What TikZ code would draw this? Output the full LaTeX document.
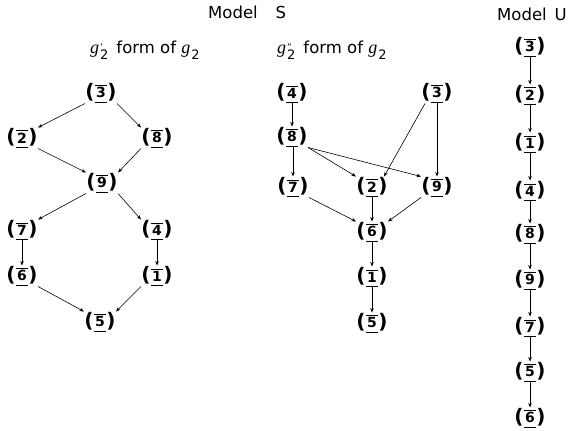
\documentclass[tikz,border=0pt]{standalone}
\usepackage{fontspec}
\setmainfont{DejaVu Sans}
\newfontfamily\gserif{Liberation Serif}
\usetikzlibrary{arrows.meta}
\newcommand{\dgbar}[1]{\setbox0\hbox{\fontsize{14}{14}\selectfont\bfseries #1}\lower4.8pt\vbox{\hrule width\dimexpr\wd0+2pt\relax height0.8pt\kern1.6pt\hbox to\dimexpr\wd0+2pt\relax{\hss\box0\hss}\kern4pt\hrule height0.8pt}}
\newcommand{\parnum}[1]{{\fontsize{20}{20}\selectfont\bfseries(}\kern0.5pt\dgbar{#1}\kern0.5pt{\fontsize{20}{20}\selectfont\bfseries)}}
\newcommand{\gsub}[1]{{\gserif\itshape\fontsize{18}{18}\selectfont g}\kern1pt\rlap{\raisebox{3pt}{\fontsize{9}{9}\selectfont #1}}\raisebox{-6pt}{\fontsize{13}{13}\selectfont 2}}
\tikzset{
  nd/.style={inner sep=0pt, outer sep=0.5pt},
  ar/.style={line width=0.6pt, -{Stealth[length=4.5pt,width=3.5pt]}},
  ttl/.style={anchor=base west, inner sep=0pt, font=\fontsize{16.5}{18}\selectfont},
  lbl/.style={anchor=base west, inner sep=0pt, font=\fontsize{16.5}{18}\selectfont}
}
\begin{document}
\begin{tikzpicture}[x=1pt,y=-1pt]
\useasboundingbox (0,0) rectangle (573,431);
% titles
\node[ttl] (ms) at (208,19) {Model\hspace{18pt}S};
\node[ttl] (mu) at (497,20) {Model\hspace{8pt}U};
\node[lbl] (la) at (90,53) {\gsub{'}\hspace{8pt}form of \gsub{}};
\node[lbl] (lb) at (277,53) {\gsub{''}\hspace{8pt}form of \gsub{}};
% left graph
\node[nd] (n3) at (101,93) {\parnum{3}};
\node[nd] (n2) at (22,138) {\parnum{2}};
\node[nd] (n8) at (157,138) {\parnum{8}};
\node[nd] (n9) at (102,183) {\parnum{9}};
\node[nd] (n7) at (22,230) {\parnum{7}};
\node[nd] (n4) at (157,230) {\parnum{4}};
\node[nd] (n6) at (22,276) {\parnum{6}};
\node[nd] (n1) at (157,276) {\parnum{1}};
\node[nd] (n5) at (100,322) {\parnum{5}};
\draw[ar] (n3.south west) -- (n2.north east);
\draw[ar] (n3.south east) -- (n8.north west);
\draw[ar] (n2.south east) -- (n9.north west);
\draw[ar] (n8.south west) -- (n9.north east);
\draw[ar] (n9.south west) -- (n7.north east);
\draw[ar] (n9.south east) -- (n4.north west);
\draw[ar] (n7) -- (n6);
\draw[ar] (n4) -- (n1);
\draw[ar] (n6.south east) -- (n5.north west);
\draw[ar] (n1.south west) -- (n5.north east);
% middle graph
\node[nd] (m4) at (292,93) {\parnum{4}};
\node[nd] (m3) at (437,93) {\parnum{3}};
\node[nd] (m8) at (292,137) {\parnum{8}};
\node[nd] (m7) at (293,187) {\parnum{7}};
\node[nd] (m2) at (372,187) {\parnum{2}};
\node[nd] (m9) at (437,187) {\parnum{9}};
\node[nd] (m6) at (372,232) {\parnum{6}};
\node[nd] (m1) at (372,277) {\parnum{1}};
\node[nd] (m5) at (372,323) {\parnum{5}};
\draw[ar] (m4) -- (m8);
\draw[ar] (m8.south -| m7) -- (m7);
\draw[ar] (m8.south east) -- (m2.north west);
\draw[ar] (m8.south east) -- (m9.north west);
\draw[ar] ([xshift=4pt]m3.south west) -- ([xshift=-4pt]m2.north east);
\draw[ar] (m3) -- (m9);
\draw[ar] (m7.south east) -- (m6.north west);
\draw[ar] (m2) -- (m6);
\draw[ar] (m9.south west) -- (m6.north east);
\draw[ar] (m6) -- (m1);
\draw[ar] (m1) -- (m5);
% right column
\node[nd] (u3) at (530,47) {\parnum{3}};
\node[nd] (u2) at (530,95) {\parnum{2}};
\node[nd] (u1) at (530,143) {\parnum{1}};
\node[nd] (u4) at (530,191) {\parnum{4}};
\node[nd] (u8) at (530,234) {\parnum{8}};
\node[nd] (u9) at (530,280) {\parnum{9}};
\node[nd] (u7) at (530,327) {\parnum{7}};
\node[nd] (u5) at (530,372) {\parnum{5}};
\node[nd] (u6) at (530,418) {\parnum{6}};
\draw[ar] (u3) -- (u2);
\draw[ar] (u2) -- (u1);
\draw[ar] (u1) -- (u4);
\draw[ar] (u4) -- (u8);
\draw[ar] (u8) -- (u9);
\draw[ar] (u9) -- (u7);
\draw[ar] (u7) -- (u5);
\draw[ar] (u5) -- (u6);
\end{tikzpicture}
\end{document}
